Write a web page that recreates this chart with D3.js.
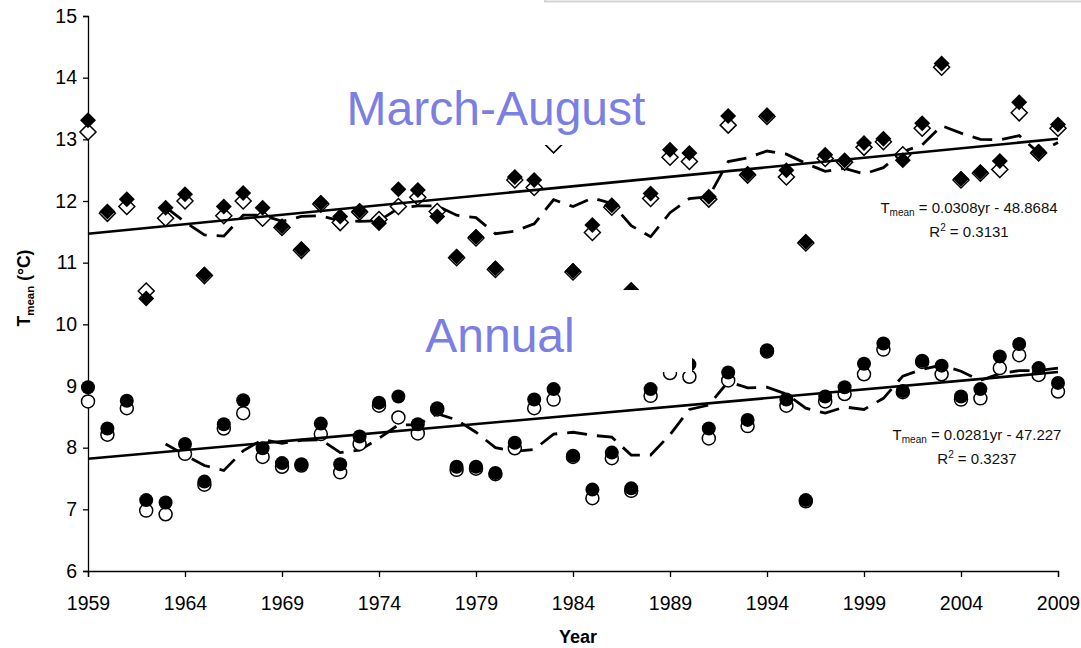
<!DOCTYPE html>
<html>
<head>
<meta charset="utf-8">
<script src="https://cdn.jsdelivr.net/npm/d3@7"></script>
<style>
  html, body { margin: 0; padding: 0; background: #fff; }
  svg { display: block; font-family: "Liberation Sans", Arial, sans-serif; }
</style>
</head>
<body>
<svg id="chart" width="1081" height="648"></svg>
<script>
// Years 1959–2009
const years = d3.range(1959, 2010);
const xTickYears = [1959, 1964, 1969, 1974, 1979, 1984, 1989, 1994, 1999, 2004, 2009];
const yTicks = [6, 7, 8, 9, 10, 11, 12, 13, 14, 15];

// March–August mean temperature (°C): filled and open diamonds
const marAugFilled = [
  13.31, 11.83, 12.03, 10.42, 11.89, 12.11, 10.81, 11.91, 12.13, 11.89, 11.59,
  11.22, 11.97, 11.75, 11.84, 11.64, 12.19, 12.18, 11.75, 11.10, 11.42,
  10.91, 12.39, 12.34, 13.03, 10.87, 11.61, 11.93, 10.56, 12.12, 12.83,
  12.78, 12.07, 13.38, 12.44, 13.39, 12.50, 11.34, 12.75, 12.66, 12.94,
  13.01, 12.66, 13.26, 14.23, 12.36, 12.47, 12.65, 13.60, 12.80, 13.24
];
const marAugOpen = [
  13.12, 11.80, 11.91, 10.54, 11.72, 12.00, 10.79, 11.76, 12.00, 11.72, 11.57,
  11.20, 11.95, 11.65, 11.82, 11.70, 11.91, 12.06, 11.83, 11.08, 11.40,
  10.89, 12.34, 12.22, 12.91, 10.85, 11.49, 11.90, 10.53, 12.04, 12.71,
  12.64, 12.03, 13.23, 12.42, 13.37, 12.39, 11.32, 12.69, 12.63, 12.87,
  12.96, 12.75, 13.18, 14.17, 12.34, 12.45, 12.51, 13.43, 12.78, 13.18
];
// 5-year running mean, 1963–2009
const marAugRunYears = d3.range(1963, 2010);
const marAugRunning = [
  11.90, 11.66, 11.45, 11.43, 11.77, 11.77, 11.67,
  11.75, 11.76, 11.68, 11.67, 11.68, 11.88, 11.92, 11.92, 11.77, 11.73,
  11.47, 11.51, 11.63, 12.02, 11.91, 12.05, 11.96, 11.60, 11.42, 11.81,
  12.04, 12.07, 12.64, 12.70, 12.81, 12.76, 12.61, 12.48, 12.53, 12.44,
  12.54, 12.80, 12.91, 13.22, 13.10, 13.00, 12.99, 13.06, 12.78, 12.95
];

// Annual mean temperature (°C): filled and open circles
const annualFilled = [
  8.98, 8.31, 8.76, 7.15, 7.11, 8.06, 7.45, 8.38, 8.77, 7.99, 7.75,
  7.73, 8.39, 7.73, 8.18, 8.73, 8.83, 8.38, 8.64, 7.69, 7.69,
  7.59, 8.08, 8.78, 8.95, 7.87, 7.32, 7.92, 7.34, 8.95, 9.52,
  9.35, 8.31, 9.22, 8.45, 9.58, 8.78, 7.15, 8.83, 8.98, 9.36,
  9.69, 8.92, 9.41, 9.33, 8.83, 8.95, 9.48, 9.68, 9.29, 9.05
];
const annualOpen = [
  8.75, 8.21, 8.64, 6.98, 6.92, 7.90, 7.40, 8.31, 8.56, 7.85, 7.69,
  7.71, 8.22, 7.60, 8.06, 8.68, 8.49, 8.23, 8.62, 7.64, 7.66,
  7.57, 7.99, 8.64, 8.78, 7.85, 7.18, 7.83, 7.30, 8.84, 9.21,
  9.15, 8.15, 9.09, 8.35, 9.56, 8.68, 7.13, 8.75, 8.87, 9.19,
  9.59, 8.90, 9.39, 9.19, 8.78, 8.80, 9.29, 9.50, 9.18, 8.91
];
const annualRunYears = d3.range(1963, 2010);
const annualRunning = [
  8.06, 7.88, 7.71, 7.63, 7.95, 8.13, 8.07,
  8.12, 8.13, 7.92, 7.96, 8.15, 8.37, 8.37, 8.55, 8.45, 8.25,
  8.00, 7.94, 7.97, 8.22, 8.25, 8.20, 8.17, 7.88, 7.88, 8.21,
  8.62, 8.69, 9.07, 8.97, 8.98, 8.87, 8.64, 8.56, 8.66, 8.62,
  8.80, 9.16, 9.27, 9.34, 9.24, 9.09, 9.20, 9.25, 9.25, 9.29
];

// Linear trends as printed on the chart
const trendSlopes = [0.0308, 0.0281];
const trendIntercepts = [-48.8684, -47.227];
const trendR2 = ["0.3131", "0.3237"];
const seriesLabels = ["March-August", "Annual"];

const svg = d3.select("#chart");
const x = d3.scaleLinear().domain([1959, 2009]).range([88, 1058]);
const y = d3.scaleLinear().domain([6, 15]).range([571, 16]);

// faint frame edge along the top
svg.append("rect").attr("x", 545).attr("y", -40).attr("width", 600).attr("height", 41.5)
  .attr("fill", "none").attr("stroke", "#d4d4d4").attr("stroke-width", 2);

// Axes
const xAxis = d3.axisBottom(x).tickValues(xTickYears).tickFormat(d3.format("d"))
  .tickSize(6).tickPadding(19);
const gx = svg.append("g").attr("transform", `translate(0,${y(6)})`).call(xAxis);
const yAxis = d3.axisLeft(y).tickValues(yTicks).tickSize(5).tickPadding(6);
const gy = svg.append("g").attr("transform", `translate(${x(1959)},0)`).call(yAxis);
[gx, gy].forEach(g => {
  g.select(".domain").attr("stroke", "#000").attr("stroke-width", 1.3);
  g.selectAll(".tick line").attr("stroke", "#000").attr("stroke-width", 1.3);
  g.selectAll(".tick text").attr("fill", "#000").style("font-size", "19.5px")
    .style("font-family", "'Liberation Sans', Arial, sans-serif");
});

// Axis titles
svg.append("text").attr("x", 578).attr("y", 643).attr("text-anchor", "middle")
  .style("font-size", "18px").style("font-weight", "bold").text("Year");
const yt = svg.append("text").attr("transform", "translate(30,288) rotate(-90)")
  .attr("text-anchor", "middle").style("font-size", "17.5px").style("font-weight", "bold");
yt.append("tspan").text("T");
yt.append("tspan").attr("dy", 4).style("font-size", "11.5px").text("mean");
yt.append("tspan").attr("dy", -4).text(" (°C)");

// 5-year running means (dashed)
const runLine = d3.line().x(d => x(d[0])).y(d => y(d[1]));
[[marAugRunYears, marAugRunning], [annualRunYears, annualRunning]].forEach(([yrs, vals]) => {
  svg.append("path").datum(yrs.map((yr, i) => [yr, vals[i]]))
    .attr("d", runLine).attr("fill", "none").attr("stroke", "#000")
    .attr("stroke-width", 2.8).attr("stroke-dasharray", "20,10");
});

// Markers
const diamond = "M0,-8L8,0L0,8L-8,0Z";
svg.append("g").selectAll("path").data(years)
  .join("path").attr("d", diamond)
  .attr("transform", (d, i) => `translate(${x(d)},${y(marAugOpen[i])})`)
  .attr("fill", "#fff").attr("stroke", "#000").attr("stroke-width", 1.5);
svg.append("g").selectAll("path").data(years)
  .join("path").attr("d", diamond)
  .attr("transform", (d, i) => `translate(${x(d)},${y(marAugFilled[i])})`)
  .attr("fill", "#000");
svg.append("g").selectAll("circle").data(years)
  .join("circle").attr("cx", d => x(d)).attr("cy", (d, i) => y(annualOpen[i]))
  .attr("r", 6.5).attr("fill", "#fff").attr("stroke", "#000").attr("stroke-width", 1.5);
svg.append("g").selectAll("circle").data(years)
  .join("circle").attr("cx", d => x(d)).attr("cy", (d, i) => y(annualFilled[i]))
  .attr("r", 7).attr("fill", "#000");

// Linear trend lines
trendSlopes.forEach((m, i) => {
  const b = trendIntercepts[i];
  svg.append("line")
    .attr("x1", x(1959)).attr("y1", y(m * 1959 + b))
    .attr("x2", x(2009)).attr("y2", y(m * 2009 + b))
    .attr("stroke", "#000").attr("stroke-width", 2.6);
});

// Text boxes (white background)
svg.append("rect").attr("x", 340).attr("y", 78).attr("width", 312).attr("height", 67).attr("fill", "#fff");
svg.append("rect").attr("x", 600).attr("y", 290).attr("width", 92).attr("height", 82).attr("fill", "#fff");

const labelColor = "#7b7ee2";
svg.append("text").attr("x", 496).attr("y", 125).attr("text-anchor", "middle")
  .attr("fill", labelColor).style("font-size", "48px").text(seriesLabels[0]);
svg.append("text").attr("x", 500).attr("y", 352).attr("text-anchor", "middle")
  .attr("fill", labelColor).style("font-size", "48px").text(seriesLabels[1]);

// Trend equations
const fmtSlope = d3.format(".4f");
function equation(cx, by, i) {
  const t = svg.append("text").attr("x", cx).attr("y", by).attr("text-anchor", "middle")
    .style("font-size", "15px").attr("fill", "#111");
  t.append("tspan").text("T");
  t.append("tspan").attr("dy", 3).style("font-size", "10px").text("mean");
  t.append("tspan").attr("dy", -3)
    .text(` = ${fmtSlope(trendSlopes[i])}yr - ${Math.abs(trendIntercepts[i])}`);
  const r = svg.append("text").attr("x", cx).attr("y", by + 23.5).attr("text-anchor", "middle")
    .style("font-size", "15px").attr("fill", "#111");
  r.append("tspan").text("R");
  r.append("tspan").attr("dy", -6).style("font-size", "10px").text("2");
  r.append("tspan").attr("dy", 6).text(` = ${trendR2[i]}`);
}
equation(969, 213, 0);
equation(977, 440, 1);
</script>
</body>
</html>
